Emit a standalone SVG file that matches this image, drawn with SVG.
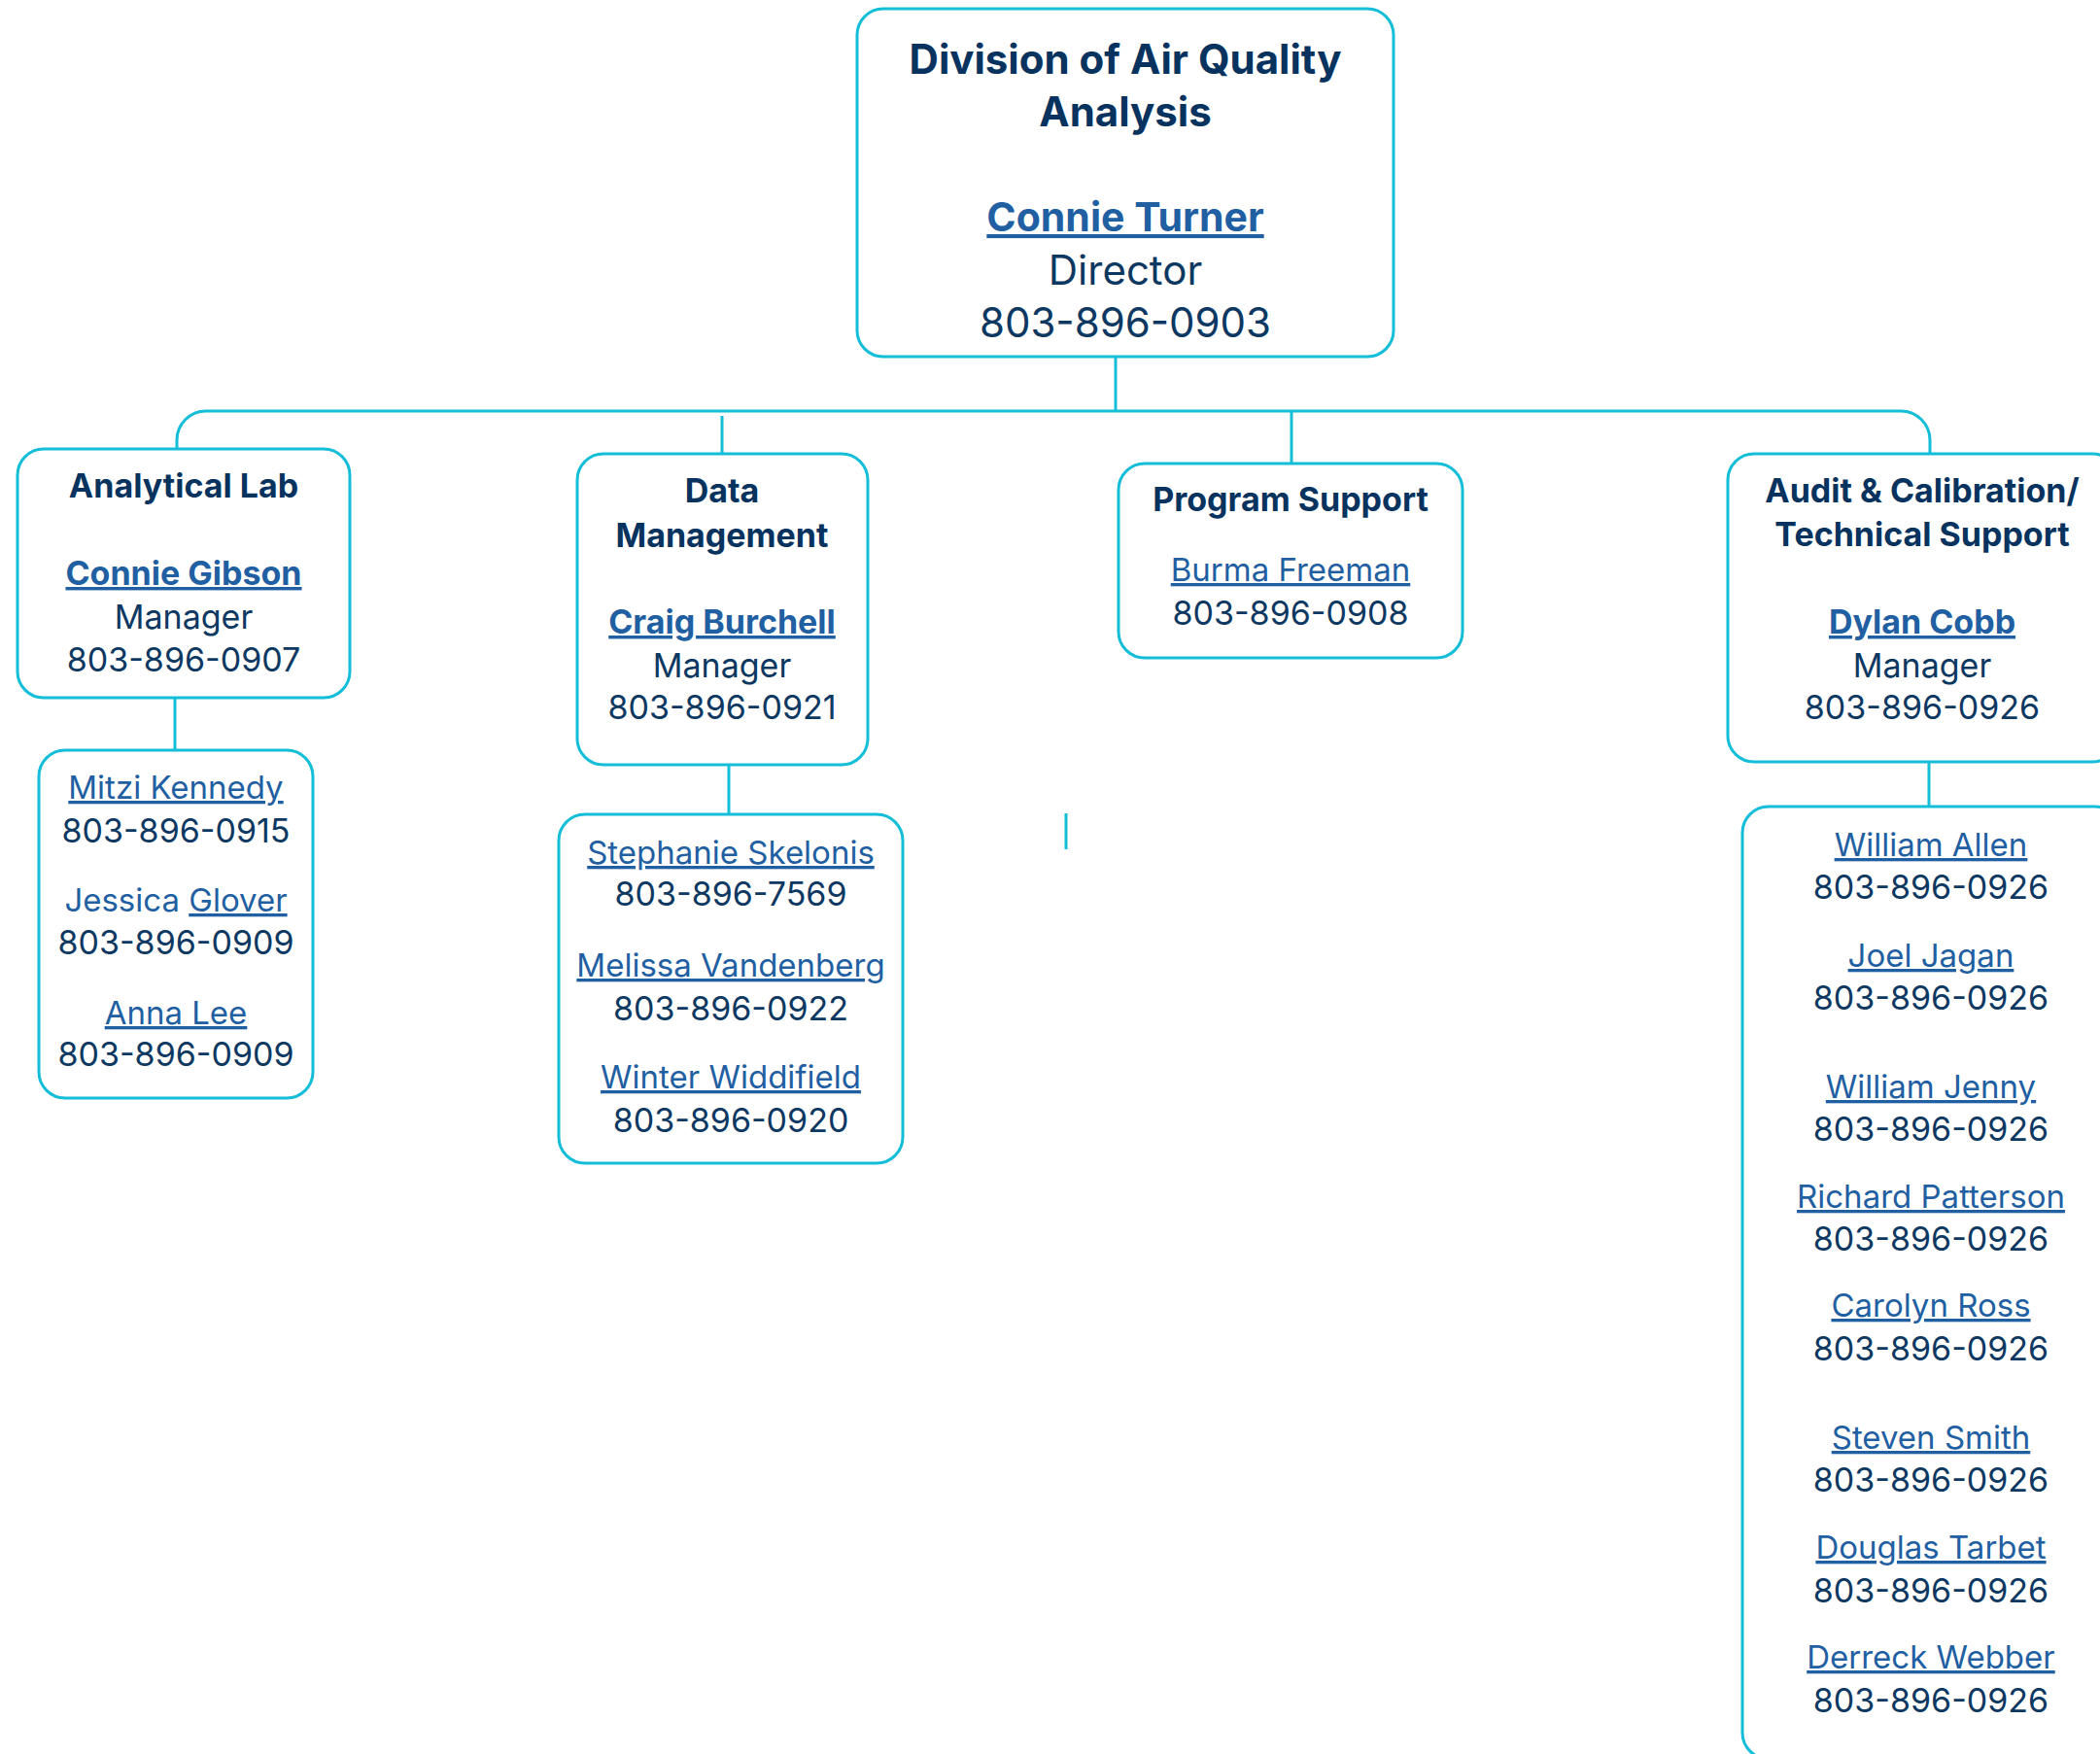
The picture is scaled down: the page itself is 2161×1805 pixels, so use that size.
<svg xmlns="http://www.w3.org/2000/svg" width="2161" height="1805" viewBox="0 0 2161 1805">
<style>
  text { font-family: Inter, "Liberation Sans", sans-serif; text-anchor: middle; font-size: 34px; }
  .box { fill: #ffffff; stroke: #14BED8; stroke-width: 3; }
  .conn { fill: none; stroke: #14BED8; stroke-width: 3; }
  .h { font-weight: 700; fill: #07335E; }
  .nb { font-weight: 700; fill: #1F5FA2; text-decoration: underline; }
  .n { font-weight: 400; fill: #1F5FA2; text-decoration: underline; font-size: 33px; }
  .nu { font-weight: 400; fill: #1F5FA2; font-size: 33px; }
  .t { font-weight: 400; fill: #0D3862; }
  .big { font-size: 42px; }
</style>
<rect width="2161" height="1805" fill="#ffffff"/>
<g id="connectors">
  <path class="conn" d="M182 462 V453 A30 30 0 0 1 212 423 H1956 A30 30 0 0 1 1986 453 V467"/>
  <path class="conn" d="M1148 367 V423"/>
  <path class="conn" d="M743 428 V467"/>
  <path class="conn" d="M1329 423 V477"/>
  <path class="conn" d="M180 718 V772"/>
  <path class="conn" d="M750 787 V838"/>
  <path class="conn" d="M1985 784 V830"/>
  <path class="conn" d="M1097 837 V874"/>
</g>
<g id="director">
  <rect class="box" x="882" y="9" width="552" height="358" rx="27"/>
  <text class="h big" x="1158" y="76">Division of Air Quality</text>
  <text class="h big" x="1158" y="130">Analysis</text>
  <text class="nb" x="1158" y="238" style="font-size:41px">Connie Turner</text>
  <text class="t big" x="1158" y="293">Director</text>
  <text class="t big" x="1158" y="347">803-896-0903</text>
</g>
<g id="analytical-lab">
  <rect class="box" x="18" y="462" width="342" height="256" rx="27"/>
  <text class="h" x="189" y="512">Analytical Lab</text>
  <text class="nb" x="189" y="602">Connie Gibson</text>
  <text class="t" x="189" y="647">Manager</text>
  <text class="t" x="189" y="691">803-896-0907</text>
</g>
<g id="analytical-lab-staff">
  <rect class="box" x="40" y="772" width="282" height="358" rx="27"/>
  <text class="n" x="181" y="822">Mitzi Kennedy</text>
  <text class="t" x="181" y="867">803-896-0915</text>
  <text x="181" y="938"><tspan class="nu">Jessica </tspan><tspan class="n">Glover</tspan></text>
  <text class="t" x="181" y="982">803-896-0909</text>
  <text class="n" x="181" y="1054">Anna Lee</text>
  <text class="t" x="181" y="1097">803-896-0909</text>
</g>
<g id="data-management">
  <rect class="box" x="594" y="467" width="299" height="320" rx="27"/>
  <text class="h" x="743" y="517">Data</text>
  <text class="h" x="743" y="563">Management</text>
  <text class="nb" x="743" y="652">Craig Burchell</text>
  <text class="t" x="743" y="697">Manager</text>
  <text class="t" x="743" y="740">803-896-0921</text>
</g>
<g id="data-management-staff">
  <rect class="box" x="575" y="838" width="354" height="359" rx="27"/>
  <text class="n" x="752" y="889">Stephanie Skelonis</text>
  <text class="t" x="752" y="932">803-896-7569</text>
  <text class="n" x="752" y="1005">Melissa Vandenberg</text>
  <text class="t" x="752" y="1050">803-896-0922</text>
  <text class="n" x="752" y="1120">Winter Widdifield</text>
  <text class="t" x="752" y="1165">803-896-0920</text>
</g>
<g id="program-support">
  <rect class="box" x="1151" y="477" width="354" height="200" rx="27"/>
  <text class="h" x="1328" y="526">Program Support</text>
  <text class="n" x="1328" y="598">Burma Freeman</text>
  <text class="t" x="1328" y="643">803-896-0908</text>
</g>
<g id="audit-calibration">
  <rect class="box" x="1778" y="467" width="402" height="317" rx="27"/>
  <text class="h" x="1978" y="517">Audit &amp; Calibration/</text>
  <text class="h" x="1978" y="562">Technical Support</text>
  <text class="nb" x="1978" y="652">Dylan Cobb</text>
  <text class="t" x="1978" y="697">Manager</text>
  <text class="t" x="1978" y="740">803-896-0926</text>
</g>
<g id="audit-calibration-staff">
  <rect class="box" x="1793" y="830" width="390" height="980" rx="27"/>
  <text class="n" x="1987" y="881">William Allen</text>
  <text class="t" x="1987" y="925">803-896-0926</text>
  <text class="n" x="1987" y="995">Joel Jagan</text>
  <text class="t" x="1987" y="1039">803-896-0926</text>
  <text class="n" x="1987" y="1130">William Jenny</text>
  <text class="t" x="1987" y="1174">803-896-0926</text>
  <text class="n" x="1987" y="1243">Richard Patterson</text>
  <text class="t" x="1987" y="1287">803-896-0926</text>
  <text class="n" x="1987" y="1355">Carolyn Ross</text>
  <text class="t" x="1987" y="1400">803-896-0926</text>
  <text class="n" x="1987" y="1491">Steven Smith</text>
  <text class="t" x="1987" y="1535">803-896-0926</text>
  <text class="n" x="1987" y="1604">Douglas Tarbet</text>
  <text class="t" x="1987" y="1649">803-896-0926</text>
  <text class="n" x="1987" y="1717">Derreck Webber</text>
  <text class="t" x="1987" y="1762">803-896-0926</text>
</g>
</svg>
